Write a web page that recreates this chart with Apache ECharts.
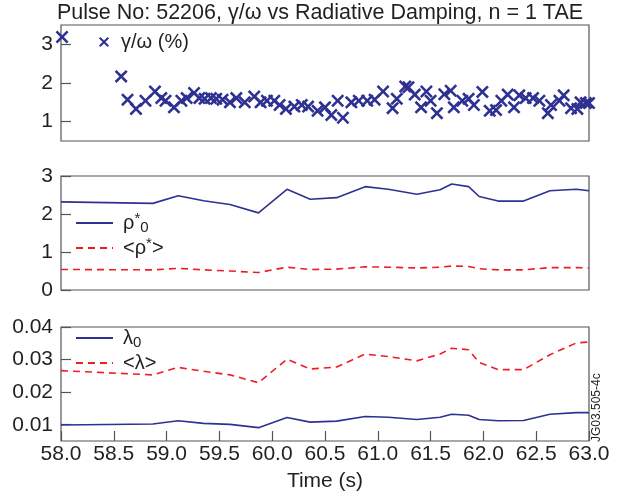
<!DOCTYPE html>
<html>
<head>
<meta charset="utf-8">
<script src="https://cdn.jsdelivr.net/npm/echarts@6/dist/echarts.min.js"></script>
<style>
  html, body { margin: 0; padding: 0; background: #fff; }
  #chart { width: 622px; height: 497px; }
</style>
</head>
<body>
<div id="chart"></div>
<script>
// shared time base of the profile curves (s)
const times = [58.0, 58.87, 59.11, 59.35, 59.6, 59.87, 60.14, 60.36, 60.61, 60.88, 61.1,
  61.37, 61.59, 61.7, 61.86, 61.96, 62.14, 62.38, 62.63, 62.88, 63.0]

const rhoStar0 = [2.32, 2.28, 2.48, 2.35, 2.25, 2.03, 2.65, 2.39, 2.43, 2.72, 2.65,
  2.52, 2.64, 2.79, 2.72, 2.46, 2.34, 2.34, 2.61, 2.65, 2.61]
const rhoStarAvg = [0.54, 0.53, 0.57, 0.53, 0.50, 0.46, 0.60, 0.54, 0.55, 0.61, 0.60,
  0.58, 0.60, 0.63, 0.62, 0.56, 0.53, 0.53, 0.59, 0.59, 0.58]

const lambda0 = [0.0099, 0.0102, 0.0112, 0.0104, 0.0101, 0.0091, 0.0122, 0.0108, 0.0111, 0.0125, 0.0123,
  0.0116, 0.0123, 0.0132, 0.0129, 0.0116, 0.0112, 0.0113, 0.0132, 0.0137, 0.0137]
const lambdaAvg = [0.0266, 0.0253, 0.0276, 0.0264, 0.0253, 0.0229, 0.0301, 0.0271, 0.0277, 0.0317, 0.0309,
  0.0296, 0.0317, 0.0335, 0.0330, 0.0291, 0.0269, 0.0269, 0.0315, 0.0351, 0.0354]

// gamma/omega measurements
const gammaTimes = [58.01, 58.57, 58.63, 58.71, 58.80, 58.89, 58.95, 58.99, 59.07, 59.14,
  59.19, 59.26, 59.31, 59.36, 59.42, 59.47, 59.53, 59.60, 59.66, 59.74,
  59.83, 59.89, 59.95, 60.02, 60.07, 60.13, 60.21, 60.28, 60.34, 60.43,
  60.50, 60.56, 60.62, 60.67, 60.75, 60.82, 60.90, 60.97, 61.05, 61.14,
  61.18, 61.26, 61.29, 61.35, 61.41, 61.46, 61.50, 61.56, 61.63, 61.69,
  61.72, 61.80, 61.86, 61.91, 61.99, 62.06, 62.12, 62.17, 62.23, 62.29,
  62.34, 62.40, 62.47, 62.53, 62.61, 62.64, 62.72, 62.76, 62.83, 62.89,
  62.92, 62.97, 63.0]
const gammaValues = [3.19, 2.17, 1.57, 1.33, 1.54, 1.78, 1.61, 1.54, 1.37, 1.54,
  1.61, 1.74, 1.61, 1.59, 1.61, 1.59, 1.57, 1.50, 1.61, 1.50,
  1.65, 1.50, 1.54, 1.54, 1.43, 1.33, 1.39, 1.43, 1.39, 1.28,
  1.37, 1.17, 1.54, 1.10, 1.50, 1.54, 1.54, 1.57, 1.78, 1.35,
  1.59, 1.91, 1.89, 1.70, 1.37, 1.78, 1.54, 1.22, 1.71, 1.80,
  1.37, 1.54, 1.59, 1.43, 1.77, 1.28, 1.30, 1.54, 1.70, 1.37,
  1.68, 1.61, 1.61, 1.54, 1.22, 1.43, 1.54, 1.68, 1.35, 1.33,
  1.50, 1.48, 1.48]

const xTicks = { min: 58, max: 63, interval: 0.5 }

const BLUE = '#2e3192'
const RED = '#ee1c25'
const FRAME = '#555'
const TXT = '#231f20'
const FONT = '"Liberation Sans", Arial, sans-serif'
const LABEL_SIZE = 21

const crossPath = 'path://M0,1.4L1.4,0L5,3.6L8.6,0L10,1.4L6.4,5L10,8.6L8.6,10L5,6.4L1.4,10L0,8.6L3.6,5Z'

const pair = (xs, ys) => xs.map((x, i) => [x, ys[i]])

const grids = [
  { left: 61, right: 33, top: 25, height: 116 },
  { left: 61, right: 33, top: 176, height: 114 },
  { left: 61, right: 33, top: 327, height: 114 }
].map(g => ({ ...g, show: true, borderColor: FRAME, borderWidth: 1.2, backgroundColor: 'transparent' }))

const xAxisFor = (idx, showLabels) => ({
  type: 'value',
  gridIndex: idx,
  min: xTicks.min,
  max: xTicks.max,
  interval: xTicks.interval,
  axisLine: { show: false },
  splitLine: { show: false },
  axisTick: { show: showLabels, inside: true, length: 10, lineStyle: { color: FRAME, width: 1.2 } },
  axisLabel: {
    show: showLabels, color: TXT, fontSize: LABEL_SIZE, fontFamily: FONT, margin: 3,
    formatter: v => v.toFixed(1)
  },
  name: showLabels ? 'Time (s)' : '',
  nameLocation: 'middle',
  nameGap: 30,
  nameTextStyle: { color: TXT, fontSize: LABEL_SIZE, fontFamily: FONT }
})

const yAxisBase = (idx) => ({
  type: 'value',
  gridIndex: idx,
  axisLine: { show: false },
  splitLine: { show: false },
  axisTick: { show: true, inside: true, length: 10, lineStyle: { color: FRAME, width: 1.2 } },
  axisLabel: { color: TXT, fontSize: LABEL_SIZE, fontFamily: FONT, margin: 8 }
})

const y1 = yAxisBase(0)
y1.min = 0.5; y1.max = 3.5
y1.axisTick.customValues = [1, 2, 3]
y1.axisLabel.customValues = [1, 2, 3]

const y2 = yAxisBase(1)
y2.min = 0; y2.max = 3; y2.interval = 1

const y3 = yAxisBase(2)
y3.min = 0.005; y3.max = 0.04
y3.axisTick.customValues = [0.01, 0.02, 0.03, 0.04]
y3.axisLabel.customValues = [0.01, 0.02, 0.03, 0.04]
y3.axisLabel.formatter = v => v.toFixed(2)

const legendText = (pad) => ({
  fontSize: 20, fontFamily: FONT, color: TXT, padding: [0, 0, 0, pad],
  rich: {
    sup: { fontSize: 15, fontFamily: FONT, color: TXT, padding: [0, 0, 9, 0] },
    sub: { fontSize: 15, fontFamily: FONT, color: TXT, padding: [9, 0, 0, 0] }
  }
})

// one legend box per entry so every row sits where it does in the figure
const lineLegend = (name, label, top) => ({
  data: [name], left: 75, top: top, padding: 0,
  itemWidth: 37, itemHeight: 12,
  itemStyle: { opacity: 0 },
  formatter: () => label,
  textStyle: legendText(5)
})

const option = {
  animation: false,
  backgroundColor: '#fff',
  title: {
    text: 'Pulse No: 52206, γ/ω vs Radiative Damping, n = 1 TAE',
    left: 57, top: 2, padding: 0,
    textStyle: { color: TXT, fontSize: 21.5, fontWeight: 'normal', fontFamily: FONT }
  },
  grid: grids,
  xAxis: [xAxisFor(0, false), xAxisFor(1, false), xAxisFor(2, true)],
  yAxis: [y1, y2, y3],
  legend: [
    {
      data: ['gamma'], left: 99, top: 32, padding: 0, icon: crossPath,
      itemWidth: 10, itemHeight: 10,
      formatter: () => 'γ/ω (%)',
      textStyle: legendText(7)
    },
    lineLegend('rho0', 'ρ{sup|*}{sub|0}', 211),
    lineLegend('rhoAvg', '<ρ{sup|*}>', 236),
    lineLegend('lam0', 'λ{sub|0}', 328),
    lineLegend('lamAvg', '<λ>', 353)
  ],
  graphic: [
    {
      type: 'text', x: 597, y: 442, rotation: Math.PI / 2,
      style: { text: 'JG03.505-4c', fontSize: 12, fontFamily: FONT, fill: TXT, align: 'left', verticalAlign: 'middle' }
    }
  ],
  series: [
    {
      name: 'gamma', type: 'scatter', xAxisIndex: 0, yAxisIndex: 0,
      symbol: crossPath, symbolSize: 13,
      itemStyle: { color: BLUE, opacity: 1 },
      data: pair(gammaTimes, gammaValues)
    },
    {
      name: 'rho0', type: 'line', xAxisIndex: 1, yAxisIndex: 1, symbol: 'none',
      lineStyle: { color: BLUE, width: 1.6 }, itemStyle: { color: BLUE },
      data: pair(times, rhoStar0)
    },
    {
      name: 'rhoAvg', type: 'line', xAxisIndex: 1, yAxisIndex: 1, symbol: 'none',
      lineStyle: { color: RED, width: 1.6, type: [7, 5] }, itemStyle: { color: RED },
      data: pair(times, rhoStarAvg)
    },
    {
      name: 'lam0', type: 'line', xAxisIndex: 2, yAxisIndex: 2, symbol: 'none',
      lineStyle: { color: BLUE, width: 1.6 }, itemStyle: { color: BLUE },
      data: pair(times, lambda0)
    },
    {
      name: 'lamAvg', type: 'line', xAxisIndex: 2, yAxisIndex: 2, symbol: 'none',
      lineStyle: { color: RED, width: 1.6, type: [7, 5] }, itemStyle: { color: RED },
      data: pair(times, lambdaAvg)
    }
  ]
}

const chart = echarts.init(document.getElementById('chart'), null, { renderer: 'canvas' })
chart.setOption(option)
</script>
</body>
</html>
